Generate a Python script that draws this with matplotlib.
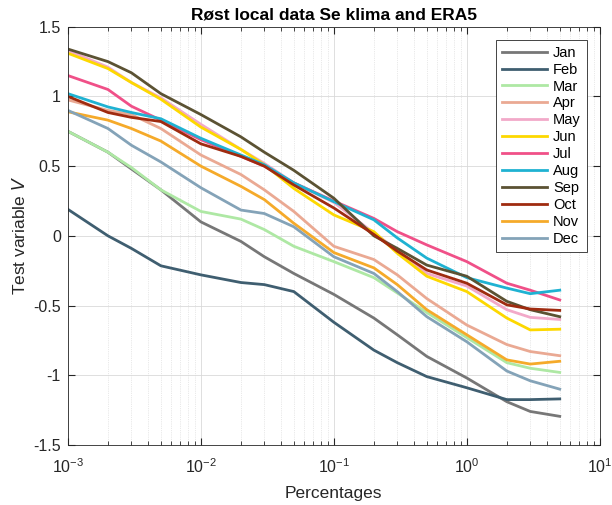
import numpy as np
import matplotlib
matplotlib.use("Agg")
import matplotlib.pyplot as plt

plt.rcParams['font.family'] = ['Liberation Sans', 'DejaVu Sans']

# exceedance percentages (x) and test variable per month
pct = [0.001, 0.002, 0.003, 0.005, 0.01, 0.02, 0.03, 0.05,
       0.1, 0.2, 0.3, 0.5, 1, 2, 3, 5]

jan = [0.75, 0.60, 0.48, 0.33, 0.10, -0.04, -0.15, -0.27,
       -0.42, -0.59, -0.71, -0.865, -1.02, -1.19, -1.26, -1.295]
feb = [0.19, 0.0, -0.09, -0.215, -0.28, -0.335, -0.35, -0.40,
       -0.62, -0.82, -0.91, -1.01, -1.09, -1.175, -1.175, -1.17]
mar = [0.75, 0.60, 0.49, 0.33, 0.175, 0.12, 0.045, -0.075,
       -0.185, -0.30, -0.41, -0.55, -0.73, -0.91, -0.95, -0.98]
apr = [0.975, 0.90, 0.87, 0.77, 0.58, 0.44, 0.33, 0.175,
       -0.075, -0.17, -0.28, -0.45, -0.64, -0.78, -0.83, -0.86]
may = [1.33, 1.21, 1.10, 0.99, 0.80, 0.62, 0.52, 0.38,
       0.24, 0.02, -0.10, -0.27, -0.36, -0.53, -0.585, -0.60]
jun = [1.31, 1.20, 1.10, 0.98, 0.78, 0.62, 0.51, 0.34,
       0.15, 0.03, -0.125, -0.29, -0.40, -0.59, -0.675, -0.67]
jul = [1.15, 1.05, 0.93, 0.83, 0.69, 0.57, 0.50, 0.38,
       0.25, 0.125, 0.03, -0.065, -0.185, -0.34, -0.39, -0.46]
aug = [1.02, 0.925, 0.885, 0.84, 0.70, 0.58, 0.51, 0.38,
       0.245, 0.115, -0.015, -0.16, -0.30, -0.375, -0.415, -0.39]
sep = [1.34, 1.25, 1.17, 1.02, 0.87, 0.71, 0.60, 0.47,
       0.27, 0.0, -0.09, -0.21, -0.29, -0.47, -0.53, -0.58]
oct_ = [1.0, 0.885, 0.85, 0.82, 0.66, 0.57, 0.50, 0.365,
        0.20, 0.01, -0.11, -0.245, -0.34, -0.495, -0.525, -0.535]
nov = [0.89, 0.83, 0.77, 0.68, 0.50, 0.355, 0.26, 0.09,
       -0.12, -0.23, -0.35, -0.53, -0.71, -0.89, -0.92, -0.90]
dec = [0.90, 0.77, 0.65, 0.53, 0.345, 0.185, 0.16, 0.065,
       -0.15, -0.27, -0.40, -0.58, -0.76, -0.97, -1.04, -1.10]

months = ['Jan', 'Feb', 'Mar', 'Apr', 'May', 'Jun',
          'Jul', 'Aug', 'Sep', 'Oct', 'Nov', 'Dec']
series = [jan, feb, mar, apr, may, jun, jul, aug, sep, oct_, nov, dec]
colors = ['#777777', '#3f5e70', '#aee8a4', '#eaa993', '#f2a9c9', '#fdd800',
          '#f05088', '#1fb2d2', '#5b5233', '#9f2b10', '#f5aa2a', '#84a3b8']

fig = plt.figure(figsize=(6.12, 5.05), dpi=100)
ax = fig.add_axes([0.111, 0.119, 0.869, 0.828])

for name, vals, c in zip(months, series, colors):
    ax.plot(pct, vals, color=c, lw=2.0, label=name)

ax.set_xscale('log')
ax.set_xlim(1e-3, 10)
ax.set_ylim(-1.5, 1.5)
ax.set_yticks([-1.5, -1, -0.5, 0, 0.5, 1, 1.5])
ax.set_yticklabels(['-1.5', '-1', '-0.5', '0', '0.5', '1', '1.5'])

ax.grid(True, which='major', color='#d9d9d9', lw=0.6)
ax.grid(True, which='minor', color='#d4d4d4', lw=0.5, ls=':')
ax.tick_params(which='both', direction='in', top=True, right=True,
               labelsize=11.5, colors='#262626')
ax.tick_params(which='major', length=5)
ax.tick_params(which='minor', length=3)
ax.tick_params(axis='x', which='major', pad=9)
ax.tick_params(axis='y', which='major', pad=5)
for s in ax.spines.values():
    s.set_color('#262626')
    s.set_linewidth(0.6)

ax.set_title('Røst local data Se klima and ERA5', fontsize=12.5,
             fontweight='bold', pad=5)
ax.set_xlabel('Percentages', fontsize=12.5, color='#262626', labelpad=7)
ax.set_ylabel('Test variable $\\it{V}$', fontsize=12.5, color='#262626',
              labelpad=4)

leg = ax.legend(loc='upper right', fontsize=10.5, handlelength=3.1,
                labelspacing=0.2, borderpad=0.4, fancybox=False,
                framealpha=1, edgecolor='#262626', handletextpad=0.4,
                borderaxespad=0.9)
leg.get_frame().set_linewidth(0.6)

fig.savefig('out.png', dpi=100)
